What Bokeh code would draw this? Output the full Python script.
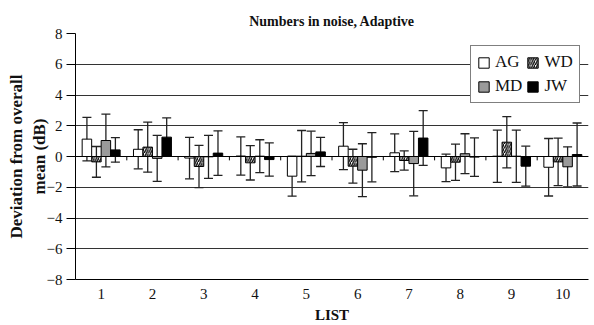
import numpy as np
from bokeh.plotting import figure
from bokeh.models import (ColumnDataSource, Whisker, Legend, LegendItem, FixedTicker,
                          Span, TeeHead)
from bokeh.embed import file_html
from bokeh.resources import INLINE

# ---- data ----
lists = [1, 2, 3, 4, 5, 6, 7, 8, 9, 10]
series_names = ["AG", "WD", "MD", "JW"]
AG = [1.13, 0.47, -0.10, 0.03, -1.28, 0.67, 0.24, -0.74, 0.02, -0.70]
WD = [-0.35, 0.61, -0.65, -0.41, 0.02, -0.63, -0.26, -0.37, 0.93, -0.35]
MD = [1.04, -0.12, -0.02, 0.02, 0.20, -0.89, -0.46, 0.18, 0.02, -0.67]
JW = [0.43, 1.26, 0.22, -0.20, 0.30, -0.05, 1.20, -0.04, -0.63, 0.13]
AG_err = [1.42, 1.27, 1.35, 1.24, 1.30, 1.53, 1.23, 0.90, 1.70, 1.87]
WD_err = [1.00, 1.63, 1.38, 1.12, 1.67, 1.10, 0.62, 1.18, 1.67, 1.55]
MD_err = [1.72, 1.50, 1.40, 1.07, 1.45, 1.72, 2.10, 1.30, 1.70, 1.30]
JW_err = [0.80, 1.25, 1.45, 1.08, 0.95, 1.60, 1.78, 1.25, 1.30, 2.05]
y_ticks = [-8, -6, -4, -2, 0, 2, 4, 6, 8]

FONT = "Liberation Serif"
bar_w = 0.185

p = figure(width=594, height=325, output_backend="svg", toolbar_location=None,
           x_range=(0.5, 10.5), y_range=(-8, 8),
           title="Numbers in noise, Adaptive",
           min_border_left=75, min_border_right=6, min_border_top=33, min_border_bottom=5)
p.background_fill_color = "white"
p.border_fill_color = "white"
p.outline_line_color = None

p.title.text_font = FONT
p.title.text_font_size = "14px"
p.title.text_font_style = "bold"
p.title.align = "center"
p.title.text_color = "#111111"

styles = [
    dict(fill_color="white"),
    dict(fill_color="white", hatch_pattern="right_diagonal_line", hatch_color="black",
         hatch_scale=4.5, hatch_weight=1.3),
    dict(fill_color="#9a9a9a"),
    dict(fill_color="black"),
]
vals = [AG, WD, MD, JW]
errs = [AG_err, WD_err, MD_err, JW_err]

x = np.array(lists, dtype=float)
renderers = {}
for i, (name, v, e, st) in enumerate(zip(series_names, vals, errs, styles)):
    off = (i - 1.5) * bar_w
    v = np.array(v)
    e = np.array(e)
    src = ColumnDataSource(dict(x=x + off, top=v, upper=v + e, lower=v - e))
    r = p.vbar(x="x", top="top", bottom=0, width=bar_w, source=src,
               line_color="black", line_width=1, **st)
    renderers[name] = r
    w = Whisker(base="x", upper="upper", lower="lower", source=src,
                line_color="#222222", line_width=1.3,
                upper_head=TeeHead(size=9, line_color="#222222", line_width=1.3),
                lower_head=TeeHead(size=9, line_color="#222222", line_width=1.3))
    p.add_layout(w)

# zero line and category separators on it
p.add_layout(Span(location=0, dimension="width", line_color="black", line_width=1.2))
sep = np.array(lists[:-1], dtype=float) + 0.5
p.segment(x0=sep, x1=sep, y0=np.zeros(len(sep)), y1=np.full(len(sep), -0.25),
          line_color="black", line_width=1)

# axes
p.yaxis.ticker = FixedTicker(ticks=y_ticks)
p.yaxis.major_label_text_font = FONT
p.yaxis.major_label_text_font_size = "15px"
p.yaxis.major_label_text_color = "#111111"
p.yaxis.major_label_standoff = 4
p.yaxis.axis_line_color = "black"
p.yaxis.major_tick_line_color = "black"
p.yaxis.major_tick_out = 9
p.yaxis.major_tick_in = 0
p.yaxis.minor_tick_line_color = None
p.yaxis.axis_label = "Deviation from overall\nmean (dB)"
p.yaxis.axis_label_text_font = FONT
p.yaxis.axis_label_text_font_size = "17px"
p.yaxis.axis_label_text_font_style = "bold"
p.yaxis.axis_label_text_color = "#111111"
p.yaxis.axis_label_standoff = -5

p.xaxis.ticker = FixedTicker(ticks=lists)
p.xaxis.major_label_text_font = FONT
p.xaxis.major_label_text_font_size = "15px"
p.xaxis.major_label_text_color = "#111111"
p.xaxis.axis_line_color = "black"
p.xaxis.major_tick_line_color = None
p.xaxis.minor_tick_line_color = None
p.xaxis.major_label_standoff = 3
p.xaxis.axis_label = "LIST"
p.xaxis.axis_label_text_font = FONT
p.xaxis.axis_label_text_font_size = "15px"
p.xaxis.axis_label_text_font_style = "bold"
p.xaxis.axis_label_text_color = "#111111"
p.xaxis.axis_label_standoff = 5

p.xgrid.grid_line_color = None
p.ygrid.ticker = FixedTicker(ticks=y_ticks)
p.ygrid.grid_line_color = "#333333"
p.ygrid.grid_line_width = 1

# legend fills column-major: order so rows read AG WD / MD JW
legend_order = ["AG", "MD", "WD", "JW"]
legend = Legend(items=[LegendItem(label=n, renderers=[renderers[n]]) for n in legend_order],
                ncols=2, location=(395, 176))
legend.label_text_font = FONT
legend.label_text_font_size = "17px"
legend.label_text_color = "#111111"
legend.glyph_width = 13
legend.glyph_height = 13
legend.border_line_color = "black"
legend.border_line_width = 1
legend.background_fill_color = "white"
legend.background_fill_alpha = 1
legend.padding = 6
legend.spacing = 4
legend.label_standoff = 5
legend.margin = 0
p.add_layout(legend)

open("out.html", "w").write(file_html(p, INLINE))
